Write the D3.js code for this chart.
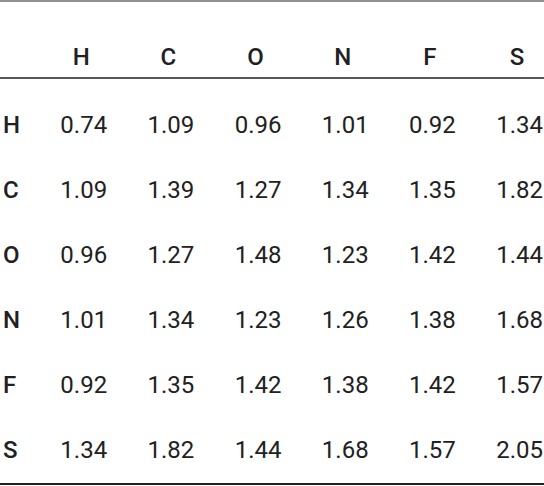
<!DOCTYPE html><html><head><meta charset="utf-8"><script src="https://cdn.jsdelivr.net/npm/d3@7"></script>
<style>body{margin:0;background:#fff}</style></head><body><svg id="c" width="544" height="486"></svg>
<script>
const columns=["H","C","O","N","F","S"];
const rowLabels=["H","C","O","N","F","S"];
const values=[
[0.74,1.09,0.96,1.01,0.92,1.34],
[1.09,1.39,1.27,1.34,1.35,1.82],
[0.96,1.27,1.48,1.23,1.42,1.44],
[1.01,1.34,1.23,1.26,1.38,1.68],
[0.92,1.35,1.42,1.38,1.42,1.57],
[1.34,1.82,1.44,1.68,1.57,2.05]];
const svg=d3.select("#c");
const font="Roboto, sans-serif", col="#212121";
const x=d3.scaleBand().domain(columns).range([21,544]);
const y=d3.scaleBand().domain(rowLabels).range([92,482]);
svg.append("line").attr("x1",0).attr("x2",544).attr("y1",1).attr("y2",1).attr("stroke",col).attr("stroke-width",1);
svg.append("line").attr("x1",0).attr("x2",544).attr("y1",78).attr("y2",78).attr("stroke",col).attr("stroke-width",1.5);
svg.append("line").attr("x1",0).attr("x2",544).attr("y1",484).attr("y2",484).attr("stroke",col).attr("stroke-width",2);
svg.selectAll(".h").data(columns).join("text").attr("x",d=>x(d)+x.bandwidth()-27).attr("y",73).attr("dy","0.35em").attr("dy",-8+"px")
 .attr("text-anchor","middle").attr("font-family",font).attr("font-weight",500).attr("font-size",24).attr("fill",col).text(d=>d);
svg.selectAll(".r").data(rowLabels).join("text").attr("x",3).attr("y",d=>y(d)+y.bandwidth()/2).attr("dy","0.35em")
 .attr("font-family",font).attr("font-weight",500).attr("font-size",24).attr("fill",col).text(d=>d);
values.forEach((row,i)=>{
 svg.selectAll(".v"+i).data(row).join("text").attr("x",(d,j)=>x(columns[j])+x.bandwidth()-1)
  .attr("y",y(rowLabels[i])+y.bandwidth()/2).attr("dy","0.35em").attr("text-anchor","end")
  .attr("font-family",font).attr("font-size",24).attr("fill",col).text(d=>d.toFixed(2));
});
</script></body></html>
